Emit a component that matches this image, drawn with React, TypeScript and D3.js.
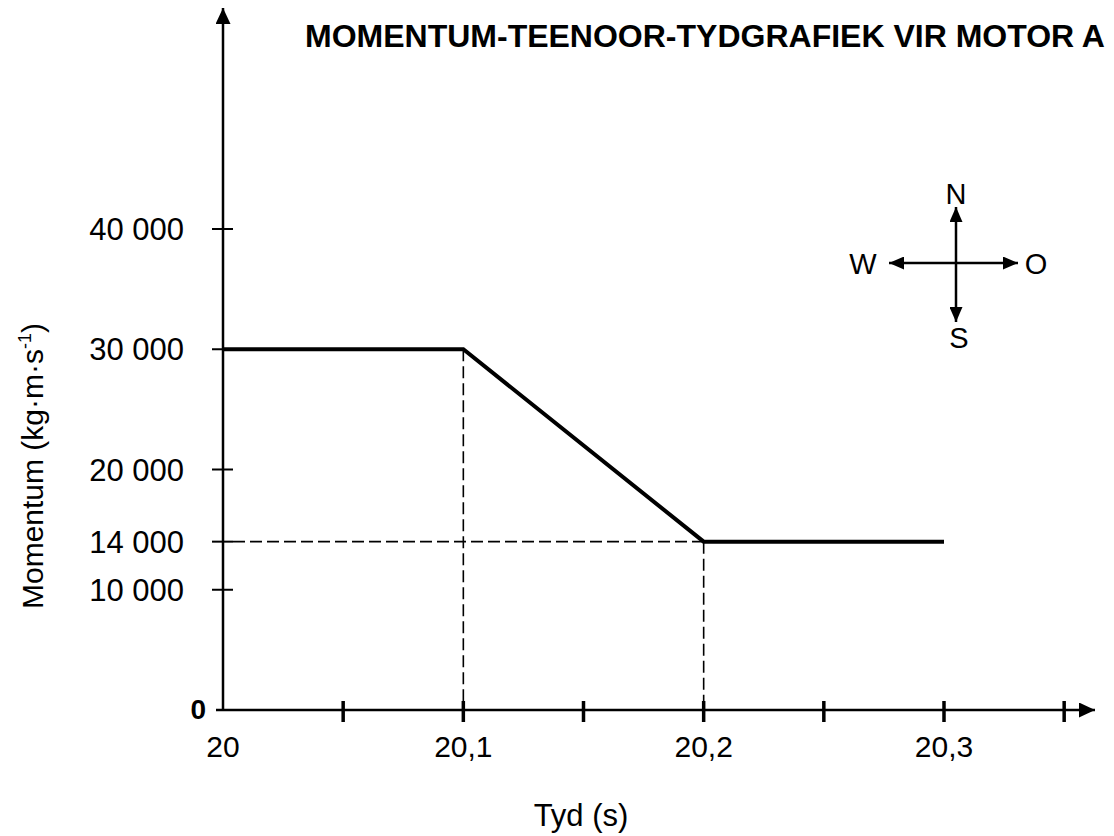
import React, { useEffect, useRef } from 'react';
import * as d3 from 'd3';

// Tyd (s) and momentum (kg·m·s-1) for motor A
const times = [20, 20.1, 20.2, 20.3];
const momentum = [30000, 30000, 14000, 14000];

const yTicks = [10000, 14000, 20000, 30000, 40000];
const yTickLabels = ['10 000', '14 000', '20 000', '30 000', '40 000'];

const xTicks = [20.05, 20.1, 20.15, 20.2, 20.25, 20.3, 20.35];
const xLabelValues = [20, 20.1, 20.2, 20.3];
const xLabels = ['20', '20,1', '20,2', '20,3'];

const title = 'MOMENTUM-TEENOOR-TYDGRAFIEK VIR MOTOR A';
const compass = [
    { label: 'N', dx: 0, dy: -1 },
    { label: 'S', dx: 0, dy: 1 },
    { label: 'W', dx: -1, dy: 0 },
    { label: 'O', dx: 1, dy: 0 },
];

const width = 1114;
const height = 836;
const font = '"Liberation Sans", Arial, sans-serif';

const App: React.FC = () => {
    const ref = useRef<SVGSVGElement>(null);

    useEffect(() => {
        const svg = d3.select(ref.current);
        svg.selectAll('*').remove();

        const x = d3.scaleLinear().domain([20, 20.3]).range([223, 944]);
        const y = d3.scaleLinear().domain([0, 40000]).range([710, 229]);

        const defs = svg.append('defs');
        const marker = (id: string, w: number, h: number) => {
            defs.append('marker')
                .attr('id', id)
                .attr('viewBox', `0 0 ${w} ${h}`)
                .attr('refX', w)
                .attr('refY', h / 2)
                .attr('markerWidth', w)
                .attr('markerHeight', h)
                .attr('markerUnits', 'userSpaceOnUse')
                .attr('orient', 'auto')
                .append('path')
                .attr('d', `M0,0L${w},${h / 2}L0,${h}Z`)
                .attr('fill', '#000');
        };
        marker('axisArrow', 16, 15);
        marker('smallArrow', 15, 13);

        // axes
        svg.append('line')
            .attr('x1', x(20)).attr('y1', y(0))
            .attr('x2', x(20)).attr('y2', 8)
            .attr('stroke', '#000').attr('stroke-width', 2.5)
            .attr('marker-end', 'url(#axisArrow)');
        svg.append('line')
            .attr('x1', x(20) - 7).attr('y1', y(0))
            .attr('x2', 1095).attr('y2', y(0))
            .attr('stroke', '#000').attr('stroke-width', 2.5)
            .attr('marker-end', 'url(#axisArrow)');

        // y ticks + labels
        svg.append('g').selectAll('line')
            .data(yTicks).enter().append('line')
            .attr('x1', x(20) - 11).attr('x2', x(20) + 10)
            .attr('y1', d => y(d)).attr('y2', d => y(d))
            .attr('stroke', '#000').attr('stroke-width', 2);
        svg.append('g').selectAll('text')
            .data(yTicks).enter().append('text')
            .attr('x', 184)
            .attr('y', d => y(d) + 11)
            .attr('text-anchor', 'end')
            .attr('font-family', font)
            .attr('font-size', 31)
            .text((d, i) => yTickLabels[i]);
        svg.append('text')
            .attr('x', 206).attr('y', y(0) + 9)
            .attr('text-anchor', 'end')
            .attr('font-family', font)
            .attr('font-size', 28)
            .attr('font-weight', 'bold')
            .text('0');

        // x ticks + labels
        svg.append('g').selectAll('line')
            .data(xTicks).enter().append('line')
            .attr('x1', d => x(d)).attr('x2', d => x(d))
            .attr('y1', y(0) - 9).attr('y2', y(0) + 12)
            .attr('stroke', '#000').attr('stroke-width', 3.5);
        svg.append('g').selectAll('text')
            .data(xLabelValues).enter().append('text')
            .attr('x', d => x(d))
            .attr('y', 757)
            .attr('text-anchor', 'middle')
            .attr('font-family', font)
            .attr('font-size', 30)
            .text((d, i) => xLabels[i]);

        // dashed guides
        const dash = '12,5';
        svg.append('line')
            .attr('x1', x(times[1])).attr('x2', x(times[1]))
            .attr('y1', y(momentum[1])).attr('y2', y(0))
            .attr('stroke', '#000').attr('stroke-width', 1.6)
            .attr('stroke-dasharray', dash);
        svg.append('line')
            .attr('x1', x(times[2])).attr('x2', x(times[2]))
            .attr('y1', y(momentum[2])).attr('y2', y(0))
            .attr('stroke', '#000').attr('stroke-width', 1.6)
            .attr('stroke-dasharray', dash);
        svg.append('line')
            .attr('x1', x(20) + 10).attr('x2', x(times[2]))
            .attr('y1', y(momentum[2])).attr('y2', y(momentum[2]))
            .attr('stroke', '#000').attr('stroke-width', 1.6)
            .attr('stroke-dasharray', dash);

        // momentum line
        const line = d3.line<number>()
            .x((d, i) => x(times[i]))
            .y(d => y(d));
        svg.append('path')
            .datum(momentum)
            .attr('d', line)
            .attr('fill', 'none')
            .attr('stroke', '#000')
            .attr('stroke-width', 4);

        // title
        svg.append('text')
            .attr('x', 305).attr('y', 47)
            .attr('font-family', font)
            .attr('font-size', 32)
            .attr('font-weight', 'bold')
            .text(title);

        // axis titles
        svg.append('text')
            .attr('x', 581).attr('y', 826)
            .attr('text-anchor', 'middle')
            .attr('font-family', font)
            .attr('font-size', 31)
            .text('Tyd (s)');

        const yt = svg.append('text')
            .attr('transform', 'translate(43,466) rotate(-90)')
            .attr('text-anchor', 'middle')
            .attr('font-family', font)
            .attr('font-size', 30);
        yt.append('tspan').text('Momentum (kg·m·s');
        yt.append('tspan').attr('font-size', 18).attr('dy', -12).text('-1');
        yt.append('tspan').attr('dy', 12).text(')');

        // compass: arm lengths and label offsets per direction
        const cx = 956;
        const cy = 263;
        const armLen: Record<string, number> = { N: 56, S: 59, W: 67, O: 62 };
        const labelOff: Record<string, number> = { N: 70, S: 74, W: 93, O: 80 };
        const g = svg.append('g');
        g.selectAll('line')
            .data(compass).enter().append('line')
            .attr('x1', cx).attr('y1', cy)
            .attr('x2', d => cx + d.dx * armLen[d.label])
            .attr('y2', d => cy + d.dy * armLen[d.label])
            .attr('stroke', '#000').attr('stroke-width', 2.5)
            .attr('marker-end', 'url(#smallArrow)');
        g.selectAll('text')
            .data(compass).enter().append('text')
            .attr('x', d => cx + d.dx * labelOff[d.label] + (d.label === 'S' ? 3 : 0))
            .attr('y', d => cy + d.dy * labelOff[d.label] + 11)
            .attr('text-anchor', 'middle')
            .attr('font-family', font)
            .attr('font-size', 29)
            .text(d => d.label);
    }, []);

    return (
        <svg ref={ref} width={width} height={height}
            style={{ position: 'absolute', left: 0, top: 0, background: '#fff' }} />
    );
};

export default App;
